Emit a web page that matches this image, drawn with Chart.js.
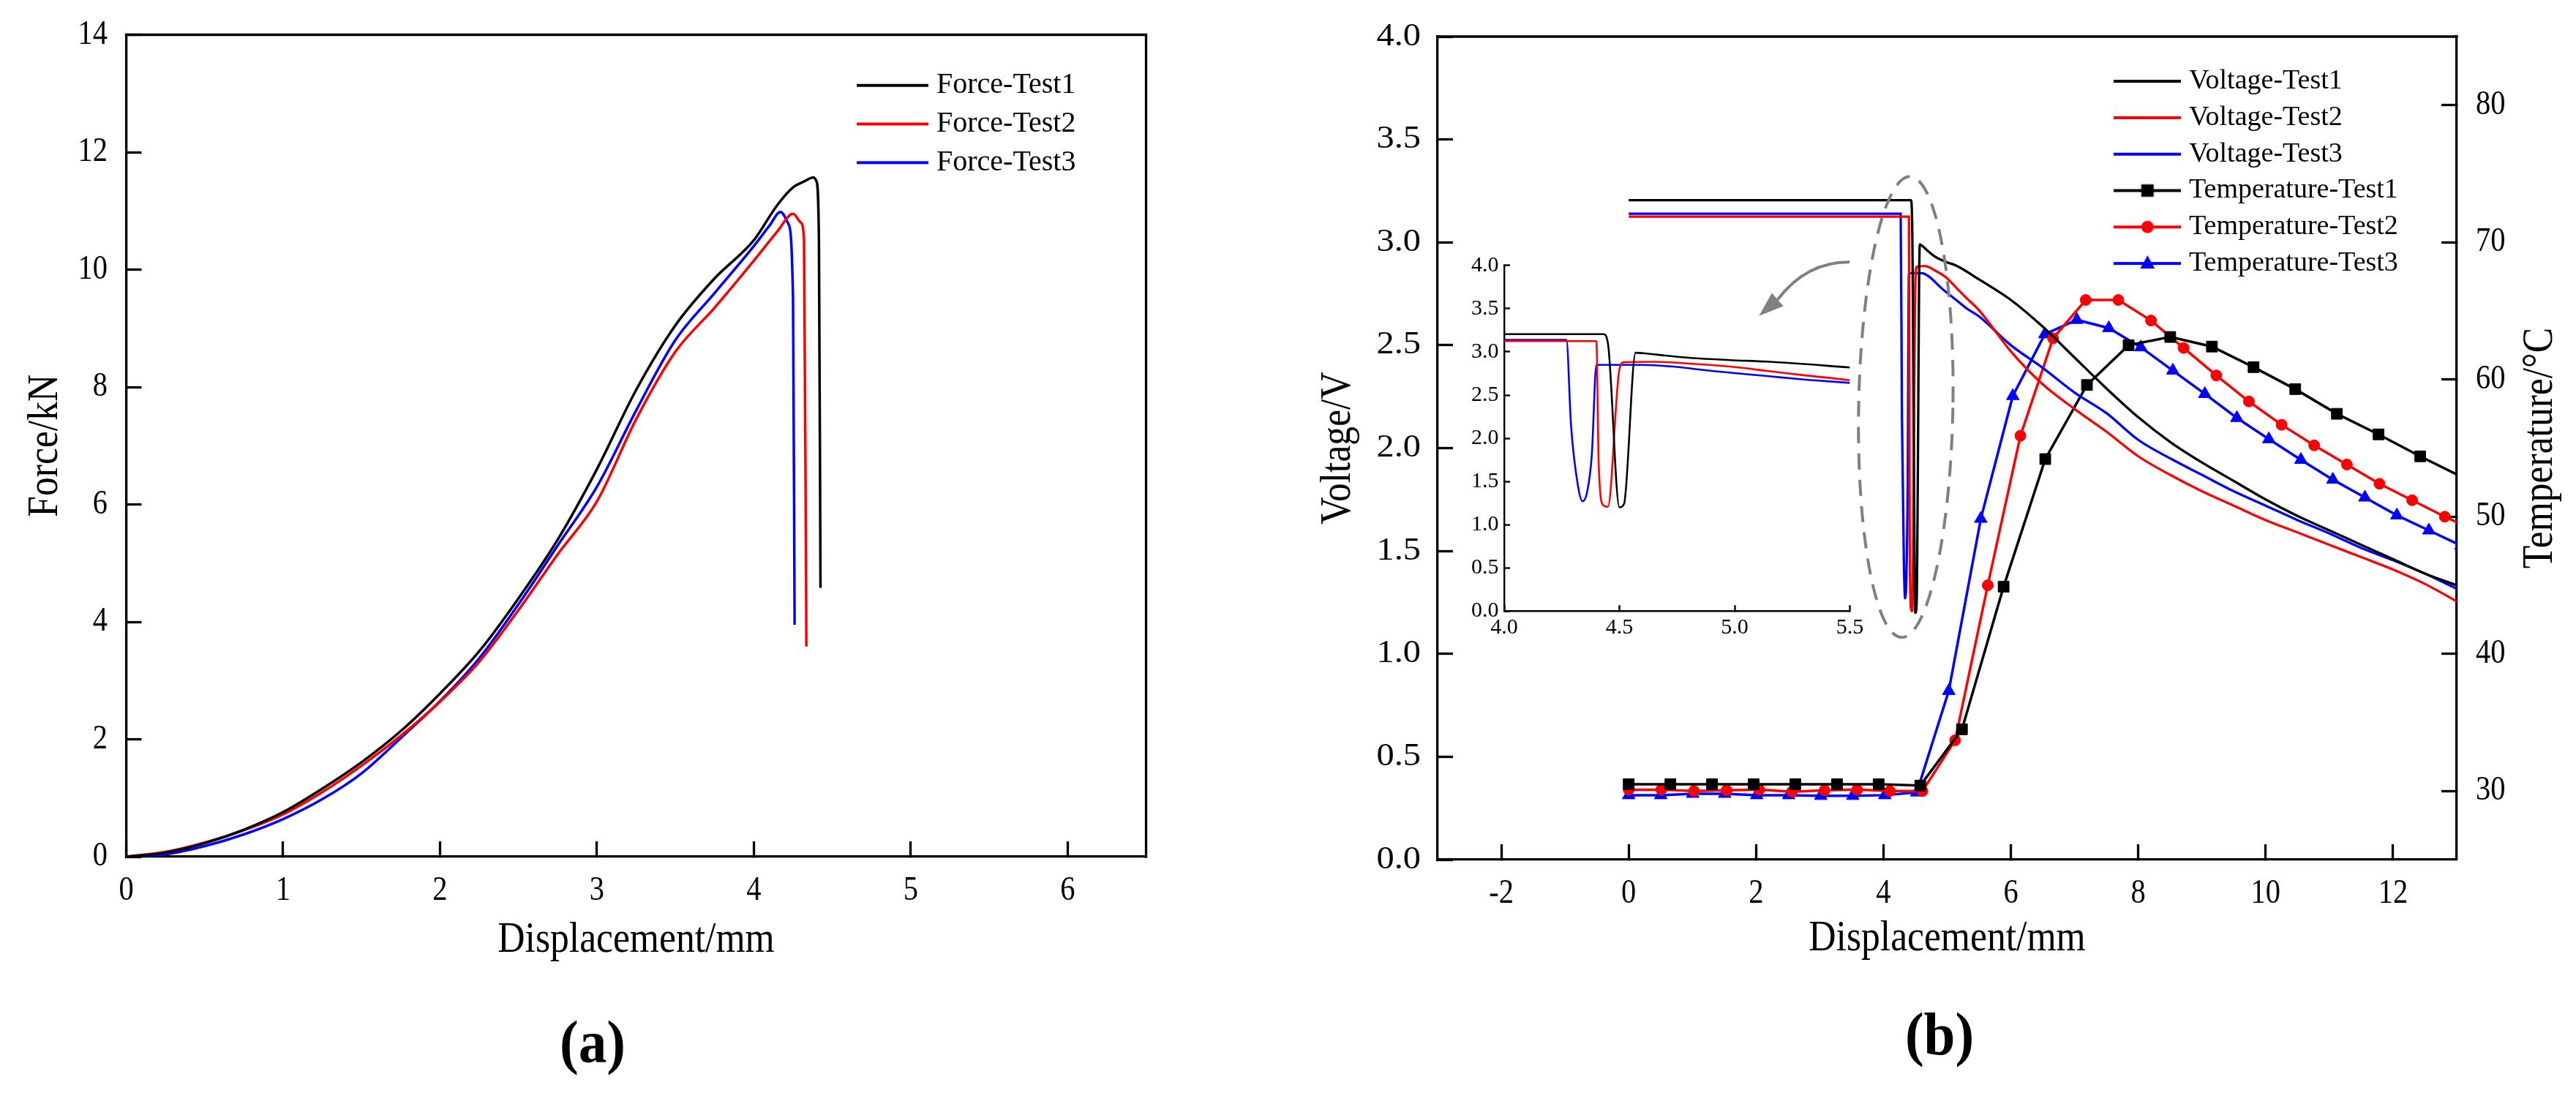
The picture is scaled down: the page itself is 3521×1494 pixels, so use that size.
<!DOCTYPE html>
<html><head><meta charset="utf-8">
<script src="https://cdn.jsdelivr.net/npm/chart.js@4.4.1/dist/chart.umd.min.js"></script>
<style>
html,body{margin:0;padding:0;background:#fff;}
body{width:3521px;height:1494px;position:relative;overflow:hidden;}
canvas{position:absolute;}
#ca{left:0;top:0;width:1750px;height:1494px;}
#cb{left:1750px;top:0;width:1771px;height:1494px;}
#ci{left:1980px;top:340px;width:580px;height:560px;}
</style></head><body>
<canvas id="ca" width="1750" height="1494"></canvas>
<canvas id="cb" width="1771" height="1494"></canvas>
<canvas id="ci" width="580" height="560"></canvas>
<script>
// ---------------- DATA ----------------
// Panel (a): Force vs displacement
const forceTest1X = [0, 0.25, 0.5, 0.75, 1.0, 1.25, 1.5, 1.75, 2.0, 2.25, 2.5, 2.75, 3.0, 3.25, 3.5, 3.75, 4.0, 4.15, 4.25, 4.32, 4.38, 4.40, 4.415, 4.425];
const forceTest1Y = [0, 0.07, 0.23, 0.46, 0.76, 1.16, 1.61, 2.14, 2.78, 3.5, 4.4, 5.4, 6.6, 7.95, 9.05, 9.85, 10.5, 11.1, 11.4, 11.5, 11.57, 11.5, 10.5, 4.58];
const forceTest2X = [0, 0.25, 0.5, 0.75, 1.0, 1.25, 1.5, 1.75, 2.0, 2.25, 2.5, 2.75, 3.0, 3.25, 3.5, 3.75, 4.0, 4.15, 4.25, 4.30, 4.32, 4.335];
const forceTest2Y = [0, 0.08, 0.24, 0.45, 0.72, 1.1, 1.55, 2.06, 2.64, 3.32, 4.2, 5.15, 6.05, 7.45, 8.6, 9.35, 10.15, 10.65, 10.95, 10.8, 10.5, 3.58];
const forceTest3X = [0, 0.25, 0.5, 0.75, 1.0, 1.25, 1.5, 1.75, 2.0, 2.25, 2.5, 2.75, 3.0, 3.25, 3.5, 3.75, 4.0, 4.1, 4.17, 4.22, 4.25, 4.26];
const forceTest3Y = [0, 0.04, 0.18, 0.38, 0.64, 0.98, 1.42, 2.02, 2.65, 3.38, 4.3, 5.3, 6.3, 7.6, 8.8, 9.6, 10.4, 10.75, 10.98, 10.78, 9.5, 3.95];

// Panel (b): Voltage vs displacement
const voltTest1X = [0, 4.43, 4.45, 4.50, 4.52, 4.57, 4.60, 4.70, 4.81, 4.98, 5.14, 5.5, 6.0, 6.5, 7.0, 7.5, 8.0, 8.5, 9.0, 9.5, 10.0, 10.5, 11.0, 11.5, 12.0, 12.5, 13.0];
const voltTest1Y = [3.205, 3.205, 3.10, 1.20, 1.24, 2.99, 2.985, 2.957, 2.93, 2.905, 2.887, 2.82, 2.72, 2.59, 2.44, 2.29, 2.15, 2.03, 1.93, 1.84, 1.75, 1.67, 1.60, 1.53, 1.46, 1.39, 1.333];
const voltTest2X = [0, 4.40, 4.41, 4.43, 4.45, 4.50, 4.52, 4.65, 4.81, 4.98, 5.14, 5.3, 5.5, 6.0, 6.5, 7.0, 7.5, 8.0, 8.5, 9.0, 9.5, 10.0, 10.5, 11.0, 11.5, 12.0, 12.5, 13.0];
const voltTest2Y = [3.125, 3.125, 1.70, 1.225, 1.207, 2.80, 2.88, 2.885, 2.863, 2.83, 2.78, 2.73, 2.67, 2.47, 2.31, 2.19, 2.08, 1.96, 1.87, 1.79, 1.72, 1.65, 1.59, 1.53, 1.47, 1.41, 1.34, 1.255];
const voltTest3X = [0, 4.27, 4.29, 4.32, 4.34, 4.36, 4.38, 4.40, 4.41, 4.60, 4.73, 4.9, 5.14, 5.3, 5.5, 6.0, 6.5, 7.0, 7.5, 8.0, 8.5, 9.0, 9.5, 10.0, 10.5, 11.0, 11.5, 12.0, 12.5, 13.0];
const voltTest3Y = [3.139, 3.139, 2.15, 1.45, 1.27, 1.38, 1.80, 2.85, 2.85, 2.85, 2.83, 2.78, 2.72, 2.68, 2.64, 2.50, 2.39, 2.27, 2.17, 2.04, 1.95, 1.87, 1.79, 1.72, 1.65, 1.585, 1.515, 1.455, 1.39, 1.316];

// Panel (b): Temperature vs displacement (marker points)
const tempTest1X = [0, 0.654, 1.308, 1.962, 2.616, 3.27, 3.924, 4.578, 5.232, 5.886, 6.54, 7.194, 7.848, 8.502, 9.156, 9.81, 10.464, 11.118, 11.772, 12.426, 13.08];
const tempTest1Y = [30.5, 30.5, 30.5, 30.5, 30.5, 30.5, 30.5, 30.4, 34.5, 44.9, 54.2, 59.6, 62.5, 63.1, 62.4, 60.9, 59.3, 57.5, 56.0, 54.4, 52.9];
const tempTest2X = [0, 0.512, 1.025, 1.537, 2.05, 2.562, 3.075, 3.587, 4.10, 4.612, 5.125, 5.637, 6.15, 6.662, 7.175, 7.687, 8.20, 8.712, 9.225, 9.737, 10.25, 10.762, 11.275, 11.787, 12.30, 12.812, 13.325];
const tempTest2Y = [30.1, 30.1, 30.0, 30.05, 30.1, 29.95, 30.05, 30.1, 30.0, 30.0, 33.7, 45.0, 55.9, 63.0, 65.8, 65.8, 64.3, 62.3, 60.3, 58.4, 56.7, 55.2, 53.8, 52.4, 51.2, 50.0, 48.9];
const tempTest3X = [0, 0.503, 1.005, 1.508, 2.01, 2.513, 3.015, 3.518, 4.02, 4.523, 5.025, 5.528, 6.03, 6.533, 7.035, 7.538, 8.04, 8.543, 9.045, 9.548, 10.05, 10.553, 11.055, 11.558, 12.06, 12.563, 13.065];
const tempTest3Y = [29.7, 29.7, 29.8, 29.8, 29.7, 29.7, 29.65, 29.65, 29.7, 29.9, 37.3, 49.85, 58.8, 63.3, 64.35, 63.75, 62.35, 60.65, 58.95, 57.2, 55.65, 54.15, 52.7, 51.4, 50.1, 49.0, 47.9];

// Tick values
const ticksForceX = [0, 1, 2, 3, 4, 5, 6];
const ticksForceY = [0, 2, 4, 6, 8, 10, 12, 14];
const ticksDispB = [-2, 0, 2, 4, 6, 8, 10, 12];
const ticksVolt = [0, 0.5, 1.0, 1.5, 2.0, 2.5, 3.0, 3.5, 4.0];
const ticksTemp = [30, 40, 50, 60, 70, 80];
const ticksInsetX = [4.0, 4.5, 5.0, 5.5];
const ticksInsetY = [0, 0.5, 1.0, 1.5, 2.0, 2.5, 3.0, 3.5, 4.0];

// Labels
const forceLabels = ['Force-Test1', 'Force-Test2', 'Force-Test3'];
const voltLabels = ['Voltage-Test1', 'Voltage-Test2', 'Voltage-Test3'];
const tempLabels = ['Temperature-Test1', 'Temperature-Test2', 'Temperature-Test3'];
const seriesColors = ['#000000', '#ff0000', '#0000ff'];
const tempMarkers = ['rect', 'circle', 'triangle'];

// ---------------- RENDERING ----------------
Chart.defaults.font.family = "'Liberation Serif','Times New Roman',serif";
Chart.defaults.color = '#000';

const zip = (xs, ys) => xs.map((x, i) => ({x: x, y: ys[i]}));
const setTicks = vals => (scale => { scale.ticks = vals.map(v => ({value: v})); });
// fix the size of an axis box and drop the extra label padding Chart.js requests
const fixBox = (prop, size) => (s => {
  s[prop] = size;
  s.paddingTop = 0; s.paddingBottom = 0; s.paddingLeft = 0; s.paddingRight = 0;
});

// text width adjustment to mimic the narrow serif of the original figure
function adjustText(canvas, factors) {
  const ctx = canvas.getContext('2d');
  const orig = ctx.fillText;
  ctx.fillText = function (text, x, y, mw) {
    const m = /(\d+(?:\.\d+)?)px/.exec(ctx.font);
    const k = (m && factors[parseFloat(m[1])]) || 1;
    if (k === 1) {
      return mw === undefined ? orig.call(ctx, text, x, y) : orig.call(ctx, text, x, y, mw);
    }
    ctx.save();
    ctx.translate(x, y);
    ctx.scale(k, 1);
    if (mw === undefined) orig.call(ctx, text, 0, 0); else orig.call(ctx, text, 0, 0, mw / k);
    ctx.restore();
  };
}
adjustText(document.getElementById('ca'), {60: 0.86, 46: 0.88, 82: 0.94});
adjustText(document.getElementById('cb'), {60: 0.86, 46: 0.88, 44: 1.1, 82: 0.94});

function gridOpts(len, w) {
  return {display: true, drawOnChartArea: false, drawTicks: true, tickLength: -len, tickWidth: w, tickColor: '#000', color: '#000'};
}
function borderOpts(w) { return {display: true, width: w, color: '#000'}; }

function legendIcon(color, marker, len) {
  const c = document.createElement('canvas');
  c.width = len; c.height = 34;
  const g = c.getContext('2d');
  g.strokeStyle = color; g.fillStyle = color; g.lineWidth = 4;
  g.beginPath(); g.moveTo(0, 17); g.lineTo(len, 17); g.stroke();
  const cx = len / 2, cy = 17;
  if (marker === 'rect') { g.fillRect(cx - 8.5, cy - 8.5, 17, 17); }
  else if (marker === 'circle') { g.beginPath(); g.arc(cx, cy, 8.5, 0, Math.PI * 2); g.fill(); }
  else if (marker === 'triangle') { g.beginPath(); g.moveTo(cx, cy - 11); g.lineTo(cx + 10, cy + 7); g.lineTo(cx - 10, cy + 7); g.closePath(); g.fill(); }
  return c;
}

const legendPos = {
  id: 'legendPos',
  afterLayout(chart, args, o) {
    const lg = chart.legend;
    if (!lg || o.left === undefined) return;
    lg.left = o.left; lg.top = o.top;
    lg.right = o.left + lg.width; lg.bottom = o.top + 2000;
  }
};
const frame = {
  id: 'frame',
  afterDraw(chart, args, o) {
    const {ctx, chartArea: a} = chart;
    ctx.save();
    ctx.strokeStyle = '#000'; ctx.lineWidth = o.width || 3.3; ctx.lineCap = 'square';
    ctx.beginPath();
    if (o.top) { ctx.moveTo(a.left, a.top); ctx.lineTo(a.right, a.top); }
    if (o.right) { ctx.moveTo(a.right, a.top); ctx.lineTo(a.right, a.bottom); }
    ctx.stroke();
    ctx.restore();
  }
};
const panelText = {
  id: 'panelText',
  afterDraw(chart, args, o) {
    const ctx = chart.ctx, a = chart.chartArea;
    (o.items || []).forEach(it => {
      ctx.save();
      ctx.font = it.font; ctx.fillStyle = '#000';
      ctx.textAlign = 'center'; ctx.textBaseline = 'middle';
      const y = it.y === 'mid' ? (a.top + a.bottom) / 2 : it.y;
      ctx.translate(it.x, y);
      if (it.rotate) ctx.rotate(it.rotate);
      ctx.fillText(it.text, 0, 0);
      ctx.restore();
    });
  }
};
const zoomMarks = {
  id: 'zoomMarks',
  afterDatasetsDraw(chart, args, o) {
    const {ctx, scales: {x, y}} = chart;
    const P = p => [x.getPixelForValue(p[0]), y.getPixelForValue(p[1])];
    const e = o.ellipse;
    const c0 = P([e.cx, e.cy]);
    const rx = Math.abs(x.getPixelForValue(e.cx + e.rx) - c0[0]);
    const ry = Math.abs(y.getPixelForValue(e.cy + e.ry) - c0[1]);
    ctx.save();
    ctx.strokeStyle = o.color; ctx.fillStyle = o.color; ctx.lineWidth = o.width;
    ctx.setLineDash(o.dash);
    ctx.beginPath(); ctx.ellipse(c0[0], c0[1], rx, ry, e.rot, 0, Math.PI * 2); ctx.stroke();
    ctx.setLineDash([]);
    const a = o.arrow;
    const s = P(a.start), c = P(a.ctrl), en = P(a.end), t = P(a.tip);
    ctx.beginPath(); ctx.moveTo(s[0], s[1]); ctx.quadraticCurveTo(c[0], c[1], en[0], en[1]); ctx.stroke();
    const dx = t[0] - en[0], dy = t[1] - en[1], L = Math.hypot(dx, dy);
    const nx = -dy / L, ny = dx / L, hw = a.headWidth / 2;
    ctx.beginPath(); ctx.moveTo(t[0], t[1]);
    ctx.lineTo(en[0] + nx * hw, en[1] + ny * hw); ctx.lineTo(en[0] - nx * hw, en[1] - ny * hw);
    ctx.closePath(); ctx.fill();
    ctx.restore();
  }
};

const titleFont = {size: 60, lineHeight: 1};
const tickFont = {size: 46, lineHeight: 1};

// ---------- Panel (a) ----------
const forceSets = [[forceTest1X, forceTest1Y], [forceTest2X, forceTest2Y], [forceTest3X, forceTest3Y]];
const iconsA = seriesColors.map(c => legendIcon(c, null, 98));
new Chart(document.getElementById('ca'), {
  type: 'line',
  data: {
    datasets: forceSets.map((s, i) => ({
      label: forceLabels[i], data: zip(s[0], s[1]),
      borderColor: seriesColors[i], backgroundColor: seriesColors[i], borderWidth: 3.5,
      pointRadius: 0, cubicInterpolationMode: 'monotone', fill: false
    }))
  },
  options: {
    responsive: false, animation: false, devicePixelRatio: 1, events: [],
    layout: {padding: {left: 0, top: 47.5, right: 183.5, bottom: 0}},
    scales: {
      x: {
        type: 'linear', min: 0, max: 6.5, afterBuildTicks: setTicks(ticksForceX),
        ticks: {padding: 45, font: tickFont, color: '#000', maxRotation: 0, autoSkip: false, callback: v => String(v)},
        grid: gridOpts(21, 3.3), border: borderOpts(3.3),
        title: {display: true, text: 'Displacement/mm', font: titleFont, color: '#000', padding: {top: 0, bottom: 179}},
        afterFit: fixBox('height', 323)
      },
      y: {
        type: 'linear', min: 0, max: 14, afterBuildTicks: setTicks(ticksForceY),
        ticks: {padding: 46.5, font: tickFont, color: '#000', autoSkip: false, callback: v => String(v)},
        grid: gridOpts(21, 3.3), border: borderOpts(3.3),
        title: {display: true, text: 'Force/kN', font: titleFont, color: '#000', padding: {top: 32, bottom: 0}},
        afterFit: fixBox('width', 172.5)
      }
    },
    plugins: {
      tooltip: {enabled: false},
      legend: {
        position: 'chartArea', align: 'start',
        labels: {
          usePointStyle: true, pointStyleWidth: 80.3, font: {size: 40}, color: '#000', padding: 12.8,
          generateLabels: chart => chart.data.datasets.map((ds, i) => ({
            text: ds.label, pointStyle: iconsA[i], fillStyle: 'rgba(0,0,0,0)', strokeStyle: 'rgba(0,0,0,0)',
            lineWidth: 0, hidden: false, datasetIndex: i, fontColor: '#000'
          }))
        }
      },
      legendPos: {left: 1166.9, top: 83.9},
      frame: {top: true, right: true, width: 3.3},
      panelText: {items: [{text: '(a)', font: "bold 82px 'Liberation Serif'", x: 810, y: 1431}]}
    }
  },
  plugins: [legendPos, frame, panelText]
});

// ---------- Panel (b) ----------
const voltSets = [[voltTest1X, voltTest1Y], [voltTest2X, voltTest2Y], [voltTest3X, voltTest3Y]];
const tempSets = [[tempTest1X, tempTest1Y], [tempTest2X, tempTest2Y], [tempTest3X, tempTest3Y]];
const markerRadius = {rect: 10.5, circle: 7.5, triangle: 10};
const iconsB = seriesColors.map(c => legendIcon(c, null, 92)).concat(seriesColors.map((c, i) => legendIcon(c, tempMarkers[i], 92)));
const dsVolt = voltSets.map((s, i) => ({
  label: voltLabels[i], data: zip(s[0], s[1]), yAxisID: 'y',
  borderColor: seriesColors[i], backgroundColor: seriesColors[i], borderWidth: 3.3,
  pointRadius: 0, cubicInterpolationMode: 'monotone', fill: false,
  clip: {left: 5, top: 5, right: 0, bottom: 5}
}));
const dsTemp = tempSets.map((s, i) => ({
  label: tempLabels[i], data: zip(s[0], s[1]), yAxisID: 'y2',
  borderColor: seriesColors[i], backgroundColor: seriesColors[i], borderWidth: 3.5,
  pointStyle: tempMarkers[i], pointRadius: markerRadius[tempMarkers[i]], pointBorderWidth: 1,
  pointBackgroundColor: seriesColors[i], pointBorderColor: seriesColors[i],
  tension: 0, fill: false, clip: {left: 20, top: 20, right: 0, bottom: 20}
}));
new Chart(document.getElementById('cb'), {
  type: 'line',
  data: {datasets: dsVolt.concat(dsTemp)},
  options: {
    responsive: false, animation: false, devicePixelRatio: 1, events: [],
    layout: {padding: {left: 0, top: 50, right: 0, bottom: 0}},
    scales: {
      x: {
        type: 'linear', min: -3, max: 13, afterBuildTicks: setTicks(ticksDispB),
        ticks: {padding: 45, font: tickFont, color: '#000', maxRotation: 0, autoSkip: false, callback: v => String(v)},
        grid: gridOpts(21, 3.3), border: borderOpts(3.3),
        title: {display: true, text: 'Displacement/mm', font: titleFont, color: '#000', padding: {top: 0, bottom: 181}},
        afterFit: fixBox('height', 319)
      },
      y: {
        type: 'linear', position: 'left', min: 0, max: 4, afterBuildTicks: setTicks(ticksVolt),
        ticks: {padding: 44, font: {size: 44, lineHeight: 1}, color: '#000', autoSkip: false, callback: v => v.toFixed(1)},
        grid: gridOpts(21, 3.3), border: borderOpts(3.3),
        title: {display: true, text: 'Voltage/V', font: titleFont, color: '#000', padding: {top: 49, bottom: 0}},
        afterFit: fixBox('width', 215)
      },
      y2: {
        type: 'linear', position: 'right', min: 25, max: 85, afterBuildTicks: setTicks(ticksTemp),
        ticks: {padding: 47, font: tickFont, color: '#000', autoSkip: false, callback: v => String(v)},
        grid: gridOpts(21, 3.3), border: borderOpts(3.3),
        title: {display: false},
        afterFit: fixBox('width', 163)
      }
    },
    plugins: {
      tooltip: {enabled: false},
      legend: {
        position: 'chartArea', align: 'start',
        labels: {
          usePointStyle: true, pointStyleWidth: 75.4, font: {size: 38}, color: '#000', padding: 11.8,
          generateLabels: chart => chart.data.datasets.map((ds, i) => ({
            text: ds.label, pointStyle: iconsB[i], fillStyle: 'rgba(0,0,0,0)', strokeStyle: 'rgba(0,0,0,0)',
            lineWidth: 0, hidden: false, datasetIndex: i, fontColor: '#000'
          }))
        }
      },
      legendPos: {left: 1135.8, top: 80.3},
      frame: {top: true, right: false, width: 3.3},
      panelText: {items: [
        {text: '(b)', font: "bold 82px 'Liberation Serif'", x: 901, y: 1420},
        {text: 'Temperature/\u00B0C', font: "60px 'Liberation Serif'", x: 1722, y: 'mid', rotate: -Math.PI / 2}
      ]},
      zoomMarks: {
        color: '#808080', width: 4, dash: [22, 14],
        ellipse: {cx: 4.35, cy: 2.20, rx: 0.74, ry: 1.12, rot: 0.018},
        arrow: {start: [3.469, 2.904], ctrl: [2.797, 2.907], end: [2.338, 2.722], tip: [2.046, 2.643], headWidth: 24}
      }
    }
  },
  plugins: [legendPos, frame, panelText, zoomMarks]
});

// ---------- Inset of panel (b) ----------
new Chart(document.getElementById('ci'), {
  type: 'line',
  data: {
    datasets: voltSets.map((s, i) => ({
      label: voltLabels[i], data: zip(s[0], s[1]),
      borderColor: seriesColors[i], borderWidth: 2.6, pointRadius: 0,
      cubicInterpolationMode: 'monotone', fill: false
    }))
  },
  options: {
    responsive: false, animation: false, devicePixelRatio: 1, events: [],
    layout: {padding: {left: 0, top: 22.9, right: 31.4, bottom: 0}},
    scales: {
      x: {
        type: 'linear', min: 4, max: 5.5, afterBuildTicks: setTicks(ticksInsetX),
        ticks: {padding: 15.7, font: {size: 30, lineHeight: 1}, color: '#000', maxRotation: 0, autoSkip: false, callback: v => v.toFixed(1)},
        grid: gridOpts(8, 2.4), border: borderOpts(2.4),
        afterFit: fixBox('height', 64.8)
      },
      y: {
        type: 'linear', min: 0, max: 4, afterBuildTicks: setTicks(ticksInsetY),
        ticks: {padding: 15.5, font: {size: 30, lineHeight: 1}, color: '#000', autoSkip: false, callback: v => v.toFixed(1)},
        grid: gridOpts(8, 2.4), border: borderOpts(2.4),
        afterFit: fixBox('width', 76)
      }
    },
    plugins: {tooltip: {enabled: false}, legend: {display: false}}
  }
});
</script>
</body></html>
